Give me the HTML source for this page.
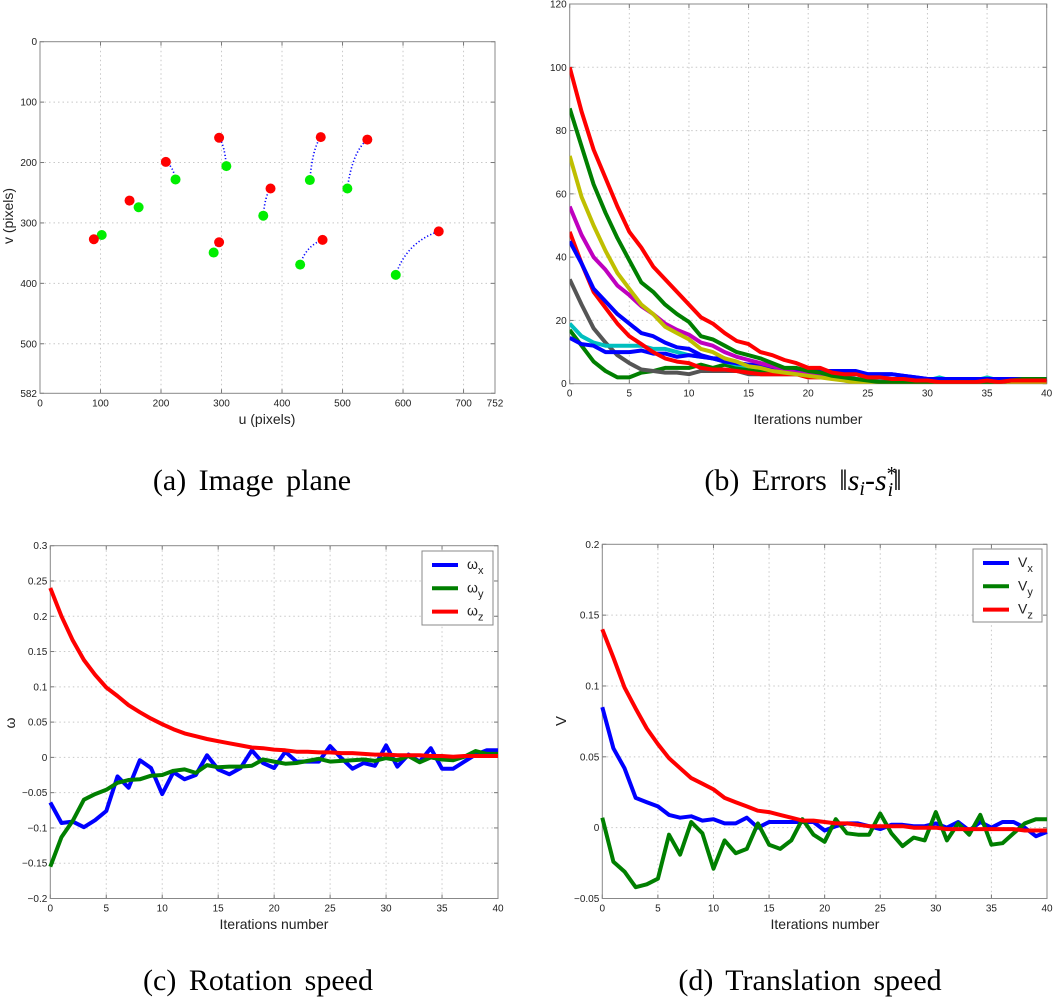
<!DOCTYPE html>
<html><head><meta charset="utf-8"><style>
body{margin:0;background:#fff}
svg text{font-family:"Liberation Sans",sans-serif}
.tk{font-size:10px;fill:#222}
.cap{font-family:"Liberation Serif",serif;font-size:30px;fill:#000;word-spacing:5px}
</style></head><body>
<svg id="fig" width="1058" height="1000" viewBox="0 0 1058 1000" xmlns="http://www.w3.org/2000/svg"></svg>
<script>
// ---- panel (a) data ----
const redU=[89,148,208,296,296,381,464,467,541,659];
const redV=[327,263,199,159,332,243,158,328,162,314];
const greenU=[102,163,224,308,287,369,446,430,508,588];
const greenV=[320,274,228,206,349,288,229,369,243,386];
const aXTicks=[0,100,200,300,400,500,600,700,752];
const aYTicks=[0,100,200,300,400,500,582];
// ---- panel (b) data ----
const bTicksX=[0,5,10,15,20,25,30,35,40];
const bTicksY=[0,20,40,60,80,100,120];
const errGreen2=[17,12,7,4,2,2,3.5,4,5,5,5,6,5,6,5,4.5,4,3.5,3.5,3,3,3,2,2,1.5,1,0.5,0.5,0.5,0.3,0.3,0.3,0.3,0.3,0.3,0.3,0.3,0.5,1,1.5,1.5];
const errGray=[33,25,17.5,13,9,6.5,4.5,4,3.5,3.5,3,4,4,4,4,3,3,3,3,3,3,2.5,2,1.5,1,1,0.5,0.5,0.5,0.5,0.5,0.5,0.5,0.5,0.5,0.5,0.5,0.5,0.5,0.5,0.5];
const errCyan=[19,15,13,12,12,12,12,11,11,10,9,8.5,8,7,6,5.5,5,4.5,4,3.5,3,3,2.5,2,1.5,1,1,1,1,1,1,2,1,1,1,2,1,1,1,1,1];
const errBlue2=[14.5,12.5,12,10,10,10,10.5,9.5,9.5,8.5,9,8.5,8,8,6.5,6,6,5,4,4,3.5,3,3,3,3,3,3,3,2.5,2,1.5,1.5,1.5,1.5,1.5,1.5,1.5,1.5,1.5,1.5,1.5];
const errRed2=[48,38,29,24,19,15,12.5,10,8,7,6.5,5,4.5,4.5,4,3.5,3,3,3,3,2,2,2,2,1,1,0.5,0.5,0.5,0.5,0.5,0.5,0.5,0.5,0.5,0.5,0.5,0.5,0.5,0.5,0.5];
const errBlue1=[45,38,30,26,22,19,16,15,13,11.5,11,9,8,7,6.5,6,5.5,5,4,4,4,4,4,4,4,3,3,3,2.5,2,1.5,1.5,1.5,1.5,1.5,1.5,1.5,1.5,1.5,1.5,1.5];
const errMagenta=[56,47,40,36,31,28,24.5,22,19,17,15.5,13,12,10,8.5,7.5,6.5,5.5,4.5,3.5,3,2.5,2,1.5,1,1,0.5,0.5,0.5,0.5,0.5,0.5,0.5,0.5,0.5,0.5,0.5,0.5,0.3,0.3,0.3];
const errYellow=[72,59,50,42,35,30,25,22,18,16,14,11,10,8,7,5.5,5,4,3.5,3,2.5,2,1.5,1,0.3,0.2,0.2,0.2,0.2,0.2,0.2,0.2,0.2,0.2,0.2,0.2,0.2,0.2,0.2,0.2,0.2];
const errGreen1=[87,75,63,54,46,39,32,29,25,22,19.5,15,14,12,10,9,8,6.5,5,5,4,3.5,2.5,2,1.5,1,0.5,0.5,0.5,0.5,0.5,0.5,0.5,0.5,0.5,0.5,0.5,1,1.5,1.5,1.5];
const errRed1=[100,86,74,65,56,48,43,37,33,29,25,21,19,16,13.5,12.5,10,9,7.5,6.5,5,5,3.5,3,3,2,2,1.5,1.5,1,1,0.5,0.5,0.5,0.5,1,0.5,1,1,1,1];
// ---- panel (c) data ----
const cTicksY=[-0.2,-0.15,-0.1,-0.05,0,0.05,0.1,0.15,0.2,0.25,0.3];
const omegaX=[-0.064,-0.093,-0.091,-0.099,-0.089,-0.076,-0.027,-0.043,-0.004,-0.015,-0.052,-0.021,-0.031,-0.025,0.003,-0.017,-0.024,-0.015,0.01,-0.008,-0.015,0.008,-0.006,-0.006,-0.006,0.016,-0.001,-0.016,-0.008,-0.012,0.017,-0.013,0.004,-0.006,0.013,-0.016,-0.016,-0.006,0.004,0.01,0.01];
const omegaY=[-0.155,-0.113,-0.09,-0.06,-0.052,-0.046,-0.036,-0.032,-0.031,-0.026,-0.025,-0.019,-0.017,-0.022,-0.011,-0.014,-0.013,-0.013,-0.012,-0.003,-0.006,-0.009,-0.008,-0.005,-0.002,-0.006,-0.005,-0.004,-0.003,-0.005,-0.001,-0.004,0.002,-0.007,0,-0.003,-0.004,0.001,0.009,0.005,0.005];
const omegaZ=[0.24,0.2,0.166,0.138,0.117,0.099,0.087,0.074,0.064,0.055,0.047,0.04,0.034,0.03,0.026,0.023,0.02,0.017,0.014,0.013,0.011,0.01,0.008,0.008,0.007,0.007,0.006,0.006,0.005,0.004,0.004,0.003,0.003,0.003,0.002,0.002,0.001,0.002,0.002,0.002,0.002];
// ---- panel (d) data ----
const dTicksY=[-0.05,0,0.05,0.1,0.15,0.2];
const velX=[0.085,0.056,0.042,0.021,0.018,0.015,0.009,0.007,0.008,0.005,0.006,0.003,0.003,0.007,0,0.004,0.004,0.004,0.004,0.004,-0.002,0.001,0.003,0.003,0.001,-0.001,0.002,0.002,0.001,0.001,0.003,0,0.004,-0.002,0.004,0,0.004,0.004,0,-0.006,-0.003];
const velY=[0.007,-0.024,-0.031,-0.042,-0.04,-0.036,-0.005,-0.019,0.004,-0.004,-0.029,-0.009,-0.018,-0.015,0.003,-0.012,-0.015,-0.009,0.006,-0.005,-0.01,0.006,-0.004,-0.005,-0.005,0.01,-0.004,-0.013,-0.007,-0.009,0.011,-0.009,0.003,-0.005,0.009,-0.012,-0.011,-0.004,0.003,0.006,0.006];
const velZ=[0.14,0.12,0.099,0.084,0.07,0.059,0.049,0.042,0.035,0.031,0.027,0.021,0.018,0.015,0.012,0.011,0.009,0.007,0.005,0.005,0.004,0.003,0.003,0.002,0.001,0.001,0.001,0.001,0,0,0,-0.001,-0.001,-0.001,-0.001,-0.001,-0.001,-0.001,-0.002,-0.002,-0.002];

const NS="http://www.w3.org/2000/svg";
const svg=document.getElementById('fig');
function el(tag,attrs,parent){const e=document.createElementNS(NS,tag);for(const k in attrs)e.setAttribute(k,attrs[k]);(parent||svg).appendChild(e);return e;}
function txt(s,x,y,cls,anchor,parent){const t=el('text',{x:x,y:y,class:cls||'tk','text-anchor':anchor||'middle'},parent);t.textContent=s;return t;}
function lin(d0,d1,r0,r1){return v=>r0+(v-d0)/(d1-d0)*(r1-r0);}

function axesFrame(g,L,T,R,B,sx,sy,xt,yt,xlab,ylabFmt){
  const grid=el('g',{},g);
  
  
  xt.forEach(v=>{const x=sx(v);if(x>L+1&&x<R-1)el('line',{x1:x,y1:T,x2:x,y2:B,stroke:'#c8c8c8','stroke-dasharray':'1.5 3','stroke-width':1},grid);});
  yt.forEach(v=>{const y=sy(v);if(y>T+1&&y<B-1)el('line',{x1:L,y1:y,x2:R,y2:y,stroke:'#c8c8c8','stroke-dasharray':'1.5 3','stroke-width':1},grid);});
  const xa=el('g',{},g);
  
  
  xt.forEach(v=>{const x=sx(v);el('line',{x1:x,y1:B,x2:x,y2:B-4,stroke:'#777'},xa);el('line',{x1:x,y1:T,x2:x,y2:T+4,stroke:'#777'},xa);txt(String(v),x,B+13,'tk','middle',xa);});
  const ya=el('g',{},g);
  
  
  yt.forEach(v=>{const y=sy(v);el('line',{x1:L,y1:y,x2:L+4,y2:y,stroke:'#777'},ya);el('line',{x1:R,y1:y,x2:R-4,y2:y,stroke:'#777'},ya);txt(ylabFmt?ylabFmt(v):String(v),L-3,y+3.5,'tk','end',ya);});
  el('rect',{x:L,y:T,width:R-L,height:B-T,fill:'none',stroke:'#888','stroke-width':1},g);
}
function series(g,xs,ys,sx,sy,color,name,w){
  const d=ys.map((v,i)=>(i?'L':'M')+sx(i).toFixed(1)+' '+sy(v).toFixed(1)).join(' ');
  const p=el('path',{d:d,fill:'none',stroke:color,'stroke-width':w||4,'stroke-linejoin':'round'},g);
  
  
  return p;
}
function fmt(v){return String(+v.toFixed(2)).replace('-','\u2212');}

// ===== Panel A =====
(function(){
  const g=el('g',{});
  
  
  const L=40,T=41.7,R=495,B=393.3;
  const sx=lin(0,752,L,R), sy=lin(0,582,T,B);
  axesFrame(g,L,T,R,B,sx,sy,aXTicks,aYTicks);
  const xl=txt('u (pixels)',267,424,'tk','middle',g);xl.setAttribute('style','font-size:14px');
  
  const yl=txt('v (pixels)',0,0,'tk','middle',g);yl.setAttribute('style','font-size:14px');yl.setAttribute('transform','translate(13,216) rotate(-90)');
  
  for(let i=0;i<redU.length;i++){
    const gx=sx(greenU[i]),gy=sy(greenV[i]),rx=sx(redU[i]),ry=sy(redV[i]);
    const cx=0.5*(gx+rx)*0.5+0.5*gx, cy=0.5*(gy+ry)*0.5+0.5*ry;
    const t=el('path',{d:`M${gx} ${gy} Q${cx} ${cy} ${rx} ${ry}`,fill:'none',stroke:'#0000ff','stroke-width':1.6,'stroke-dasharray':'1.2 2.2'},g);
    
    
  }
  for(let i=0;i<redU.length;i++){
    const c1=el('circle',{cx:sx(greenU[i]),cy:sy(greenV[i]),r:5,fill:'#00ee00'},g);
    
    
    const c2=el('circle',{cx:sx(redU[i]),cy:sy(redV[i]),r:5,fill:'#ff0000'},g);
    
    
  }
})();

// ===== Panel B =====
(function(){
  const g=el('g',{});
  
  
  const L=569.7,T=4,R=1046.7,B=383.7;
  const sx=lin(0,40,L,R), sy=lin(0,120,B,T);
  axesFrame(g,L,T,R,B,sx,sy,bTicksX,bTicksY);
  const xl=txt('Iterations number',808,424,'tk','middle',g);xl.setAttribute('style','font-size:14px');
  
  const clip=el('clipPath',{id:'cb'});el('rect',{x:L,y:T,width:R-L,height:B-T},clip);
  const pg=el('g',{'clip-path':'url(#cb)'},g);
  series(pg,0,errGreen2,sx,sy,'#007f00','error-green-2');
  series(pg,0,errGray,sx,sy,'#555555','error-gray');
  series(pg,0,errCyan,sx,sy,'#00bfbf','error-cyan');
  series(pg,0,errBlue2,sx,sy,'#0000ff','error-blue-2');
  series(pg,0,errRed2,sx,sy,'#ff0000','error-red-2');
  series(pg,0,errBlue1,sx,sy,'#0000ff','error-blue-1');
  series(pg,0,errMagenta,sx,sy,'#bf00bf','error-magenta');
  series(pg,0,errYellow,sx,sy,'#bfbf00','error-yellow');
  series(pg,0,errGreen1,sx,sy,'#007f00','error-green-1');
  series(pg,0,errRed1,sx,sy,'#ff0000','error-red-1');
})();

function legend(g,x,y,w,h,items,sym){
  const lg=el('g',{},g);
  
  
  el('rect',{x:x,y:y,width:w,height:h,fill:'#fff',stroke:'#888'},lg);
  items.forEach((it,i)=>{
    const yy=y+14+i*23.3;
    const e=el('g',{},lg);
    
    
    el('line',{x1:x+10,y1:yy,x2:x+36,y2:yy,stroke:it[0],'stroke-width':4},e);
    const t=el('text',{x:x+45,y:yy+4,style:'font-size:14px;fill:#222'},e);
    t.textContent=sym;
    const s=el('tspan',{dy:5,style:'font-size:11px'},t);s.textContent=it[1];
  });
}

// ===== Panel C =====
(function(){
  const g=el('g',{});
  
  
  const L=50.3,T=545.7,R=498,B=898.5;
  const sx=lin(0,40,L,R), sy=lin(-0.2,0.3,B,T);
  axesFrame(g,L,T,R,B,sx,sy,bTicksX,cTicksY,null,fmt);
  const xl=txt('Iterations number',274,929,'tk','middle',g);xl.setAttribute('style','font-size:14px');
  
  const yl=txt('\u03c9',0,0,'tk','middle',g);yl.setAttribute('style','font-size:14px');yl.setAttribute('transform','translate(15,723) rotate(-90)');
  
  series(g,0,omegaX,sx,sy,'#0000ff','omega-x-line');
  series(g,0,omegaY,sx,sy,'#007f00','omega-y-line');
  series(g,0,omegaZ,sx,sy,'#ff0000','omega-z-line');
  legend(g,422,551,71,74,[['#0000ff','x'],['#007f00','y'],['#ff0000','z']],'\u03c9');
})();

// ===== Panel D =====
(function(){
  const g=el('g',{});
  
  
  const L=602.3,T=544.3,R=1047,B=898.5;
  const sx=lin(0,40,L,R), sy=lin(-0.05,0.2,B,T);
  axesFrame(g,L,T,R,B,sx,sy,bTicksX,dTicksY,null,fmt);
  const xl=txt('Iterations number',825,929,'tk','middle',g);xl.setAttribute('style','font-size:14px');
  
  const yl=txt('V',0,0,'tk','middle',g);yl.setAttribute('style','font-size:15px');yl.setAttribute('transform','translate(566,721) rotate(-90)');
  
  series(g,0,velX,sx,sy,'#0000ff','v-x-line');
  series(g,0,velY,sx,sy,'#007f00','v-y-line');
  series(g,0,velZ,sx,sy,'#ff0000','v-z-line');
  legend(g,973,549,69,73,[['#0000ff','x'],['#007f00','y'],['#ff0000','z']],'V');
})();

// captions
[['(a)  Image plane',252,490,'caption-a'],['(c)  Rotation speed',258,990,'caption-c'],['(d)  Translation speed',810,990,'caption-d']].forEach(c=>{
  const t=txt(c[0],c[1],c[2],'cap','middle');
  
  
});
(function(){
  const t=el('text',{x:803,y:490,class:'cap','text-anchor':'middle'});
  
  
  t.appendChild(document.createTextNode('(b)  Errors \u2016'));
  const s1=el('tspan',{'font-style':'italic'},t);s1.textContent='s';
  const i1=el('tspan',{'font-style':'italic','font-size':'20',dy:5},t);i1.textContent='i';
  const d=el('tspan',{dy:-5},t);d.textContent='-';
  const s2=el('tspan',{'font-style':'italic'},t);s2.textContent='s';
  const st=el('tspan',{'font-size':'20',dy:-10},t);st.textContent='*';
  const i2=el('tspan',{'font-style':'italic','font-size':'20',dx:-9,dy:16},t);i2.textContent='i';
  const e=el('tspan',{dy:-6},t);e.textContent='\u2016';
})();
</script>
</body></html>
